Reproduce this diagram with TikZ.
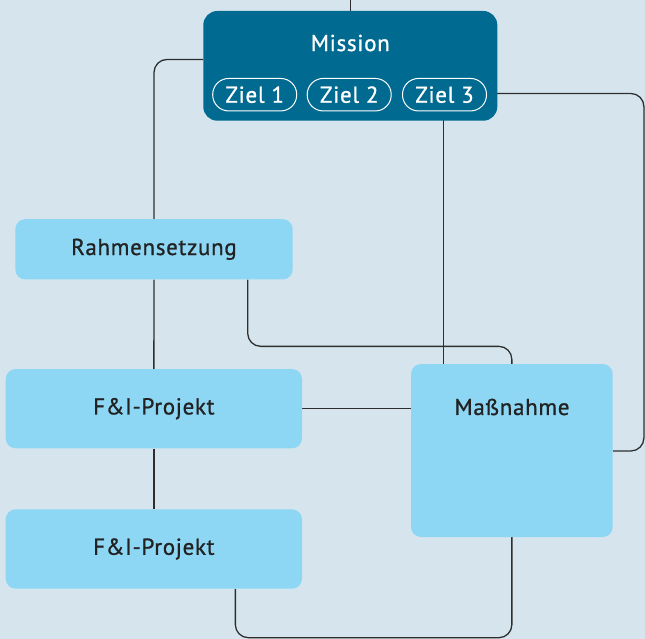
\documentclass[tikz,border=0pt]{standalone}
\usepackage{fontspec}
\setmainfont{PT Sans}[FakeBold=0.9, LetterSpace=3]
\pgfdeclarelayer{back}
\pgfdeclarelayer{lines}
\pgfsetlayers{back,lines,main}
\definecolor{bgc}{HTML}{D6E5ED}
\definecolor{teal}{HTML}{006A90}
\definecolor{lblue}{HTML}{8DD7F5}
\definecolor{linec}{HTML}{2E2E2E}
\definecolor{txt}{HTML}{222222}
\tikzset{
  lbox/.style={fill=lblue, rounded corners=10pt, inner sep=0pt, text=txt},
  pill/.style={draw=white, line width=1pt, rounded corners=16pt, inner sep=0pt, minimum width=84pt, minimum height=32.5pt, text=white},
  conn/.style={draw=linec, line width=1.3pt, rounded corners=13pt},
  lbl/.style={font=\fontsize{23}{25}\selectfont, inner sep=0pt},
}
\begin{document}
\begin{tikzpicture}[x=1pt,y=-1pt]
\begin{pgfonlayer}{back}
\fill[bgc] (0,0) rectangle (645,639);
\end{pgfonlayer}
\useasboundingbox (0,0) rectangle (645,639);
\node[fill=teal, rounded corners=14pt, inner sep=0pt, minimum width=294pt, minimum height=109.7pt] (mission) at (350.3,65.85) {};
\node[lbl, text=white] (mlabel) at (350.3,43) {Mission};
\node[pill, lbl] (z1) at (254.7,94.7) {Ziel 1};
\node[pill, lbl] (z2) at (349.2,94.7) {Ziel 2};
\node[pill, lbl] (z3) at (444.5,94.7) {Ziel 3};
\node[lbox, lbl, minimum width=277.4pt, minimum height=60.3pt] (rahmen) at (154,249.3) {Rahmensetzung};
\node[lbox, lbl, minimum width=296.3pt, minimum height=79.3pt] (fi1) at (153.85,408.65) {F\&I-Projekt};
\node[lbox, lbl, minimum width=296.3pt, minimum height=79.4pt] (fi2) at (153.85,549) {F\&I-Projekt};
\node[lbox, minimum width=201.7pt, minimum height=173pt] (mass) at (511.85,450.5) {};
\node[lbl, text=txt] (mlab) at (512,407) {Maßnahme};
\coordinate (top) at (350.3,0);
\begin{pgfonlayer}{lines}
\draw[conn] (top) -- (mission.north);
\draw[conn] ([yshift=6.4pt]mission.west) -| (rahmen.north);
\draw[conn] (rahmen.south) -- (fi1.north);
\draw[conn] (fi1.south) -- (fi2.north);
\draw[conn] ([xshift=93.7pt]rahmen.south) -- ++(0,66.7) -| (mass.north);
\draw[conn] ([xshift=-1.2pt]z3.south) -- ([xshift=-1.2pt]z3.south |- mass.north);
\draw[conn] ([yshift=1.2pt]z3.east) -| ([xshift=31pt,yshift=-0.5pt]mass.east) -- ([yshift=-0.5pt]mass.east);
\draw[conn] (fi1.east) -- (fi1.east -| mass.west);
\draw[conn] ([xshift=81.5pt]fi2.south) -- ++(0,48.8) -| (mass.south);
\end{pgfonlayer}
\end{tikzpicture}
\end{document}
